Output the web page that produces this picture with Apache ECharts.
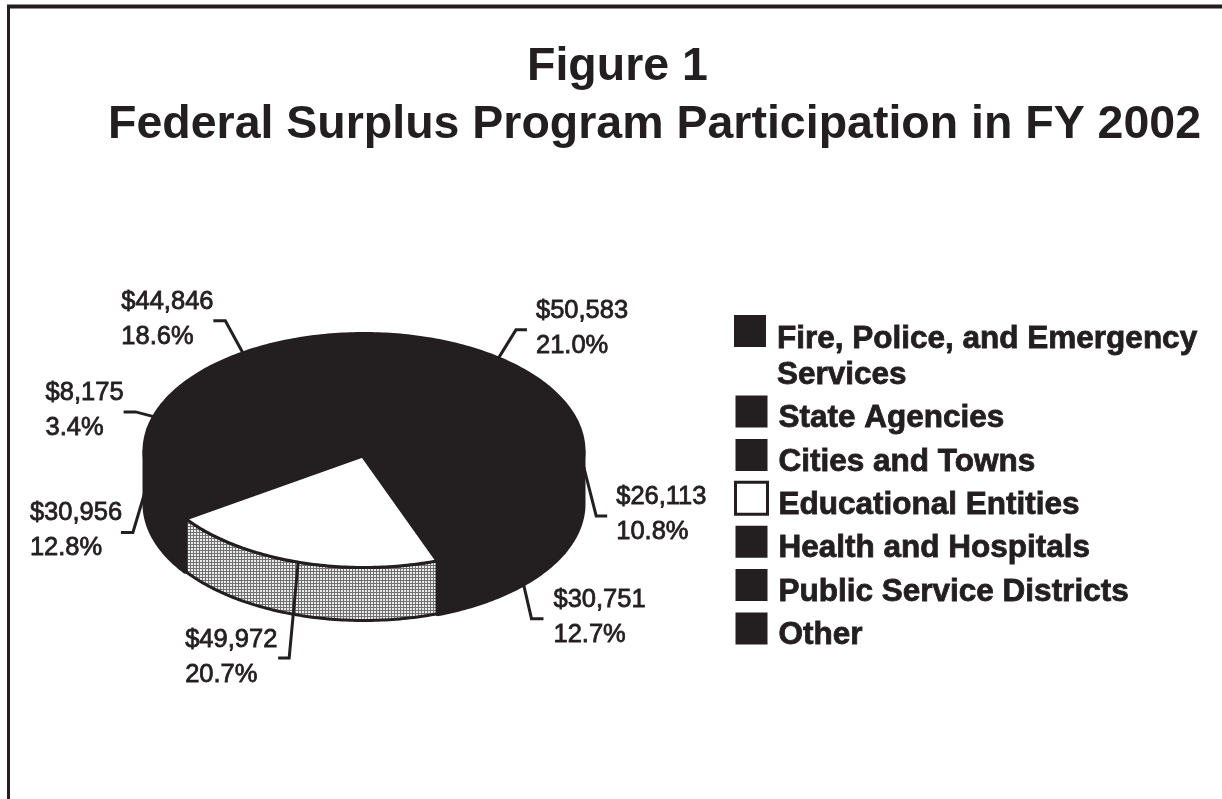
<!DOCTYPE html>
<html>
<head>
<meta charset="utf-8">
<title>Federal Surplus Program Participation in FY 2002</title>
<script src="https://cdn.jsdelivr.net/npm/echarts@6/dist/echarts.min.js"></script>
<style>
  html, body { margin: 0; padding: 0; background: #fff; }
  #chart { width: 1222px; height: 799px; }
</style>
</head>
<body>
<div id="chart"></div>
<script>
// Program participation by recipient group, clockwise from twelve o'clock.
const categories = [
  'Fire, Police, and Emergency\nServices',
  'State Agencies',
  'Cities and Towns',
  'Educational Entities',
  'Health and Hospitals',
  'Public Service Districts',
  'Other'
];
const amounts = [50583, 26113, 30751, 49972, 30956, 8175, 44846];
const amountLabels = ['$50,583', '$26,113', '$30,751', '$49,972', '$30,956', '$8,175', '$44,846'];
const shareLabels = ['21.0%', '10.8%', '12.7%', '20.7%', '12.8%', '3.4%', '18.6%'];

const INK = '#231f20';
const FONT = '"Liberation Sans", Arial, sans-serif';

// Tilted pie geometry: ellipse of the top face, height of the side wall.
const pie = { cx: 364, cy: 451, rx: 219, ry: 116.5, depth: 53, apexDx: -1, apexDy: 4 };

// Leader layout: elbow and tail relative to the rim point, text block top-left offset from the tail.
const leaderElbow = [[18, -29], [14, 55], [19, 82], [-9, 96], [-17, 57], [-19, -5], [-18, -33]];
const leaderTail = [[11, 0], [11, 0], [12, 0], [-11, 0], [-12, 0], [-12, 0], [-12, 0]];
const labelOffset = [[9, -36], [9, -36], [10, -36], [-93, -36], [-91, -37], [-78, -36], [-92, -36]];

const total = amounts.reduce((a, b) => a + b, 0);
const startAngles = [];
amounts.reduce((sum, v, i) => {
  startAngles[i] = sum / total * Math.PI * 2;
  return sum + amounts[i];
}, 0);

function rim(angle, drop) {
  return [
    pie.cx + pie.rx * Math.sin(angle),
    pie.cy - pie.ry * Math.cos(angle) + (drop || 0)
  ];
}

function arcPoints(a0, a1, drop) {
  const steps = Math.max(2, Math.ceil(Math.abs(a1 - a0) * 60));
  const pts = [];
  for (let s = 0; s <= steps; s++) pts.push(rim(a0 + (a1 - a0) * s / steps, drop));
  return pts;
}

// Halftone fill used on the front wall of the white slice.
function halftone() {
  const c = document.createElement('canvas');
  c.width = 3; c.height = 3;
  const g = c.getContext('2d');
  g.fillStyle = '#ececec';
  g.fillRect(0, 0, 3, 3);
  g.fillStyle = '#707070';
  g.fillRect(0, 1, 3, 1);
  g.fillRect(1, 0, 1, 3);
  return c;
}
const wallPattern = { image: halftone(), repeat: 'repeat' };

function sliceItem(i, value) {
  const a0 = startAngles[i];
  const a1 = a0 + value / total * Math.PI * 2;
  const isWhite = categories[i] === 'Educational Entities';
  const children = [];

  // Side wall only shows on the front half of the ellipse.
  const w0 = Math.max(a0, Math.PI / 2);
  const w1 = Math.min(a1, Math.PI * 1.5);
  if (w1 > w0) {
    const wall = arcPoints(w0, w1, 0).concat(arcPoints(w1, w0, pie.depth));
    children.push({
      type: 'polygon',
      shape: { points: wall },
      style: { fill: isWhite ? wallPattern : INK, stroke: INK, lineWidth: isWhite ? 3 : 5, lineJoin: 'round' }
    });
  }

  const apex = [pie.cx + pie.apexDx, pie.cy + pie.apexDy];
  children.push({
    type: 'polygon',
    shape: { points: [apex].concat(arcPoints(a0, a1, 0)) },
    style: { fill: isWhite ? '#fff' : INK, stroke: INK, lineWidth: isWhite ? 3 : 5, lineJoin: 'round' }
  });

  // Leader from the rim at mid-slice out to the value label.
  const mid = (a0 + a1) / 2;
  const start = rim(mid, 0);
  const elbow = [start[0] + leaderElbow[i][0], start[1] + leaderElbow[i][1]];
  const tail = [elbow[0] + leaderTail[i][0], elbow[1] + leaderTail[i][1]];
  children.push({
    type: 'polyline',
    z2: 5,
    shape: { points: [start, elbow, tail] },
    style: { fill: 'none', stroke: INK, lineWidth: 3 }
  });
  children.push({
    type: 'text',
    z2: 6,
    x: tail[0] + labelOffset[i][0],
    y: tail[1] + labelOffset[i][1],
    style: {
      text: amountLabels[i] + '\n' + shareLabels[i],
      font: '25.5px ' + FONT,
      lineHeight: 35,
      fill: INK,
      stroke: INK,
      lineWidth: 0.8
    }
  });
  return { type: 'group', children };
}

const series = categories.map((name, i) => ({
  type: 'custom',
  name,
  coordinateSystem: 'none',
  // The white slice goes down first so the black neighbours trim its edges.
  z: name === 'Educational Entities' ? 1 : 2,
  silent: true,
  itemStyle: name === 'Educational Entities'
    ? { color: '#fff', borderColor: INK, borderWidth: 3 }
    : { color: INK },
  data: [amounts[i]],
  renderItem: (params, api) => sliceItem(i, api.value(0))
}));

const entryStyle = {
  color: INK,
  fontFamily: FONT,
  fontWeight: 'bold',
  fontSize: 31.5,
  textBorderColor: INK,
  textBorderWidth: 0.8
};

const option = {
  animation: false,
  backgroundColor: '#fff',
  title: [
    {
      text: 'Figure 1',
      left: 522, top: 39,
      textStyle: { fontFamily: FONT, fontWeight: 'bold', fontSize: 46.5, color: INK }
    },
    {
      text: 'Federal Surplus Program Participation in FY 2002',
      left: 103, top: 97,
      textStyle: { fontFamily: FONT, fontWeight: 'bold', fontSize: 46.5, color: INK }
    }
  ],
  legend: [
    // Two-line entry: a spacer line holds its swatch beside the first text line.
    {
      left: 734, top: 290,
      padding: 0,
      orient: 'vertical',
      icon: 'rect',
      itemWidth: 32, itemHeight: 32,
      itemStyle: { borderWidth: 0 },
      selectedMode: false,
      data: [categories[0]],
      formatter: n => '{gap| }\n' + n.split('\n').map(line => '{t|' + line + '}').join('\n'),
      textStyle: {
        rich: {
          gap: { fontSize: 10, lineHeight: 52 },
          t: Object.assign({}, entryStyle, { lineHeight: 36, padding: [0, 0, 0, 6] })
        }
      }
    },
    {
      left: 734, top: 388.5,
      padding: 0,
      orient: 'vertical',
      icon: 'rect',
      itemWidth: 32, itemHeight: 32,
      itemGap: -3,
      selectedMode: false,
      data: categories.slice(1).map(name => name === 'Educational Entities'
        ? { name, itemStyle: { color: '#fff', borderColor: INK, borderWidth: 3 } }
        : { name, itemStyle: { borderWidth: 0 } }),
      formatter: n => '{t|' + n + '}',
      textStyle: {
        rich: {
          t: Object.assign({}, entryStyle, { lineHeight: 35, padding: [14, 0, 0, 6] })
        }
      }
    }
  ],
  graphic: [
    // Frame of the figure: top and left rules only.
    { type: 'line', shape: { x1: 7, y1: 6.5, x2: 1222, y2: 6.5 }, style: { stroke: INK, lineWidth: 4 } },
    { type: 'line', shape: { x1: 8.5, y1: 5, x2: 8.5, y2: 799 }, style: { stroke: INK, lineWidth: 3 } }
  ],
  series
};

echarts.init(document.getElementById('chart'), null, { renderer: 'canvas' }).setOption(option);
</script>
</body>
</html>
